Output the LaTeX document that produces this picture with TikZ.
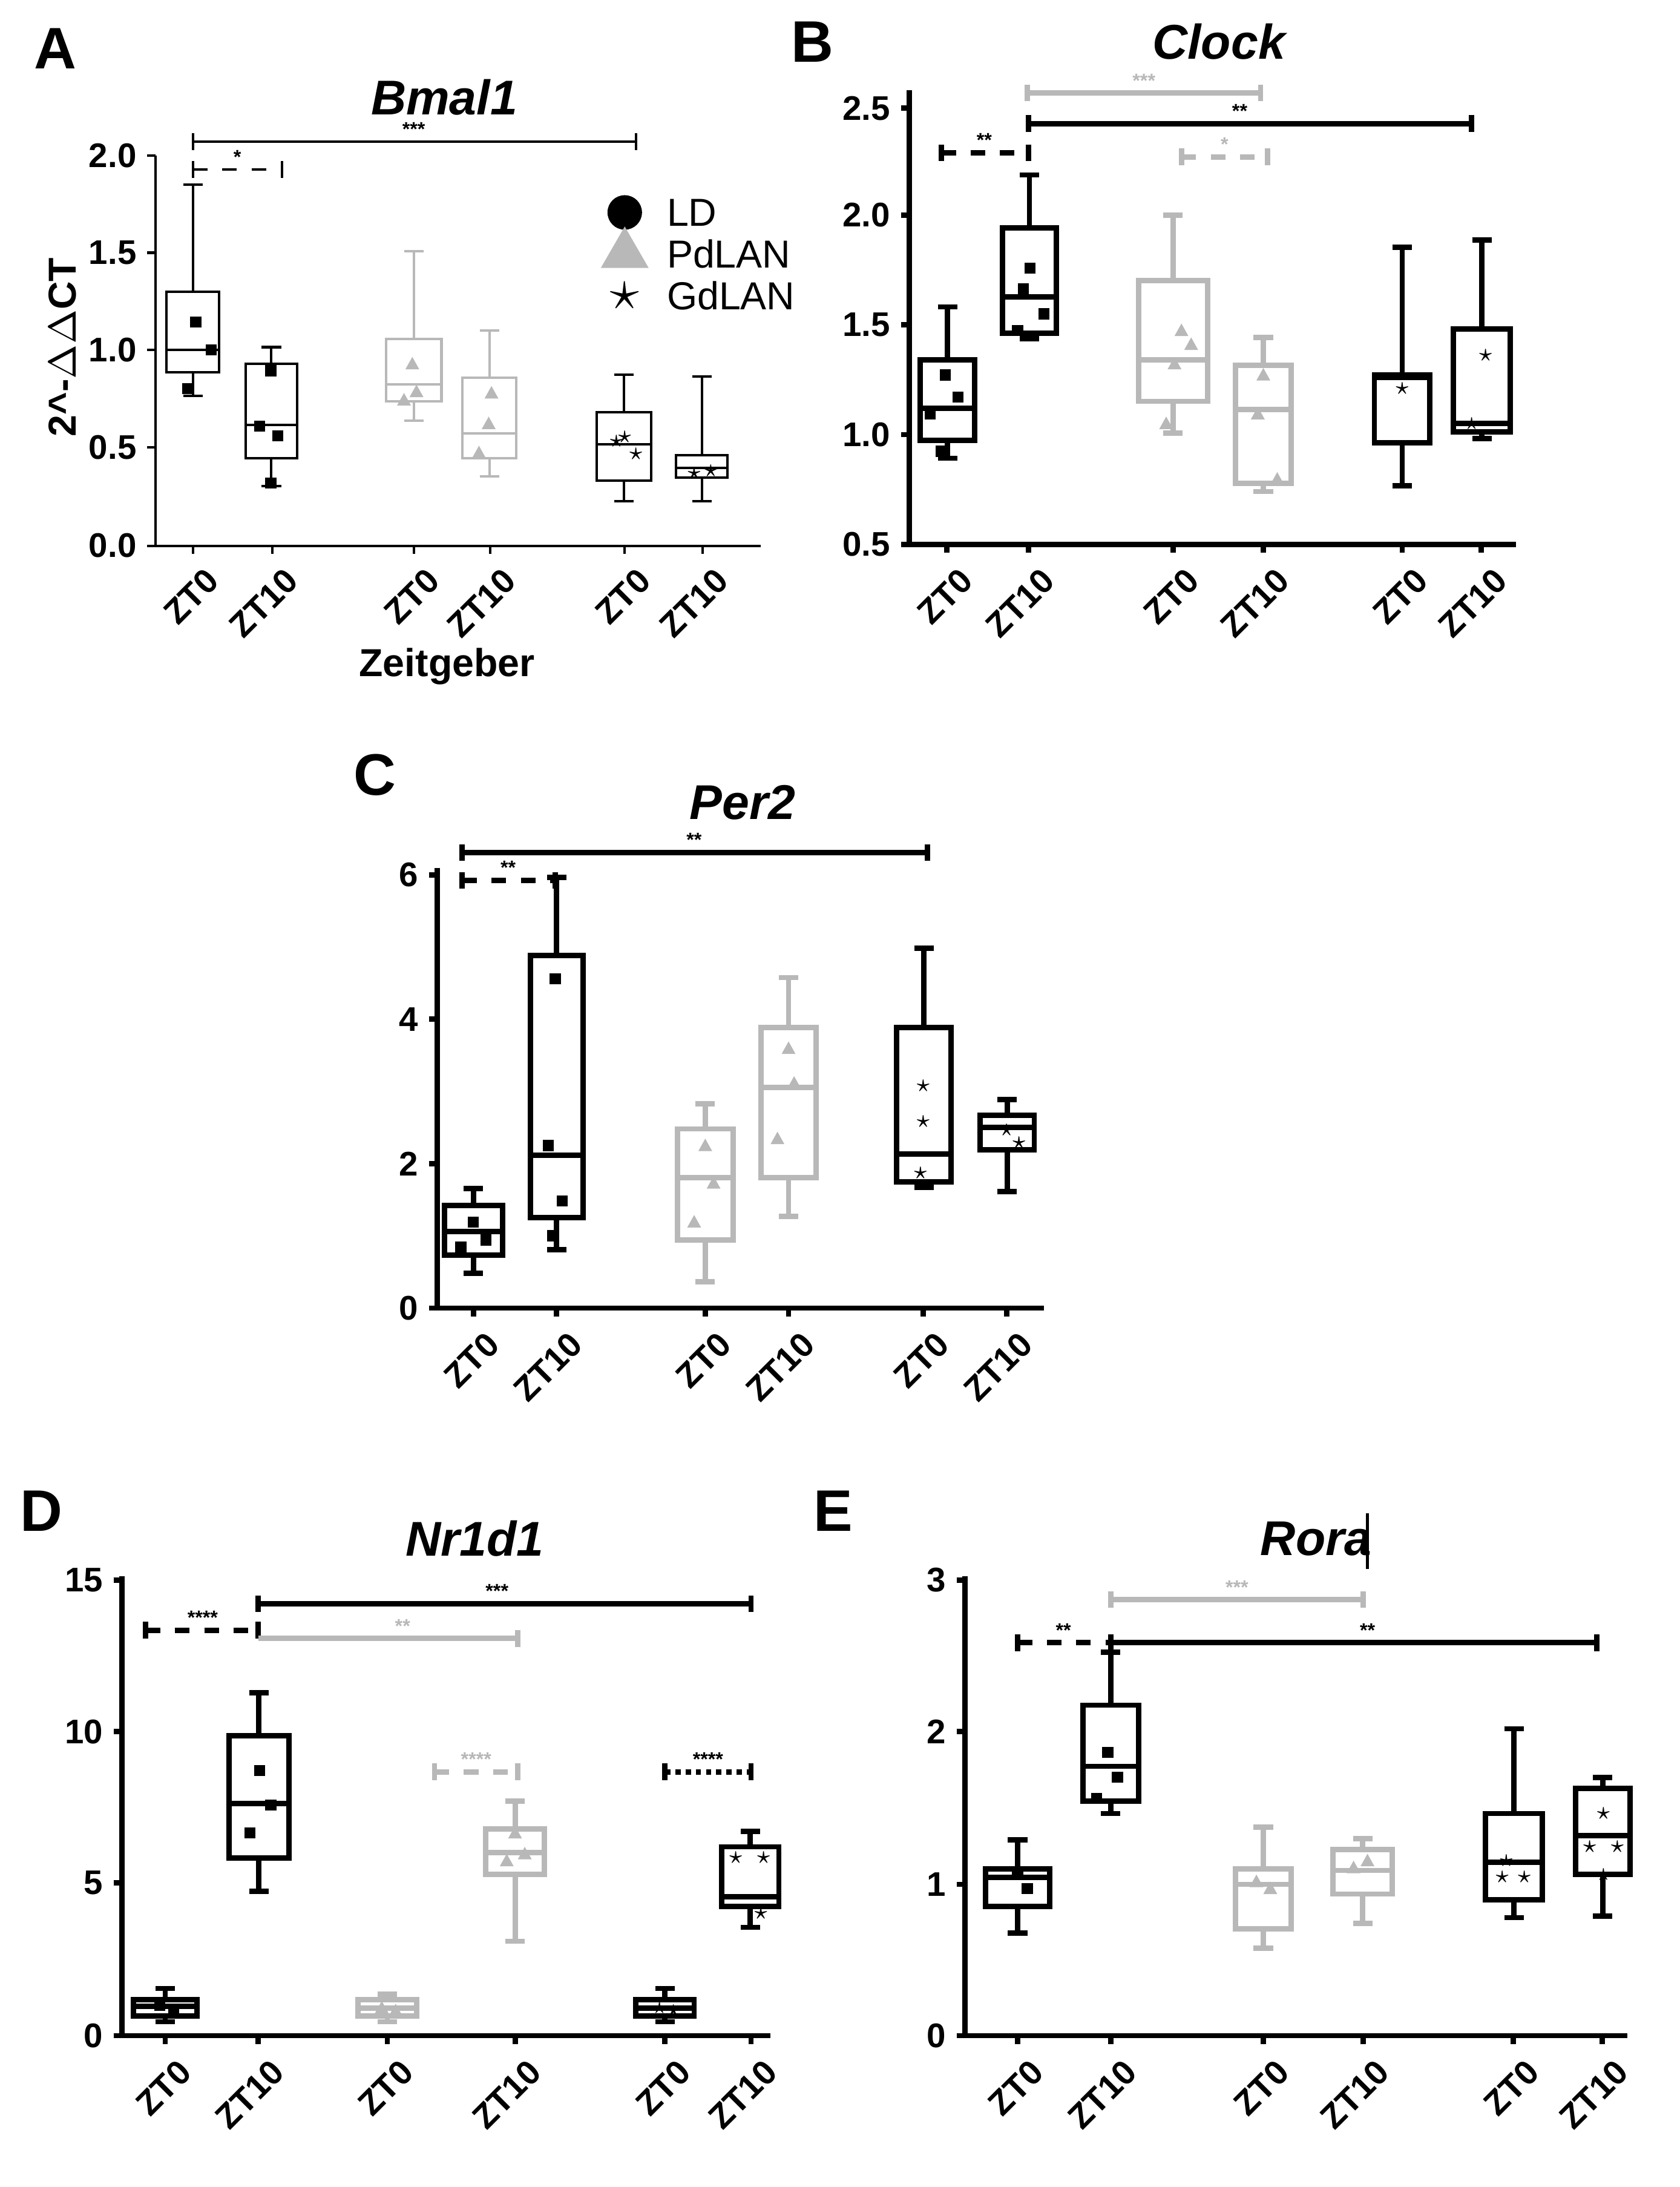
\documentclass[tikz,border=0pt]{standalone}
\usepackage{fontspec}
\setmainfont{Liberation Sans}
\usetikzlibrary{shapes.geometric}
\colorlet{langray}{black!28}
\newcommand\bplot[8]{% left, right, max, q3, median, q1, min, style
  \draw[#8] (#1,#4) rectangle (#2,#6);
  \draw[#8] (#1,#5) -- (#2,#5);
  \draw[#8] ({(#1+#2)/2},#3) -- ({(#1+#2)/2},#4);
  \draw[#8] ({(#1+#2)/2},#6) -- ({(#1+#2)/2},#7);
  \draw[#8] ({(#1+#2)/2-7},#3) -- ({(#1+#2)/2+7},#3);
  \draw[#8] ({(#1+#2)/2-7},#7) -- ({(#1+#2)/2+7},#7);
}
\newcommand\ztlab[3]{% x, y, text
  \node[ztl] at (#1,#2) {#3};}
\begin{document}
\begin{tikzpicture}
  [
  x=0.1mm, y=-0.1mm,
  ztl/.style={anchor=north east,rotate=45,font=\fontsize{7}{8}\selectfont\bfseries,inner sep=1pt},
  tick/.style={anchor=east,font=\fontsize{7}{8}\selectfont\bfseries,inner sep=2pt},
  ttl/.style={font=\fontsize{10}{12}\selectfont\bfseries\itshape},
  letter/.style={font=\fontsize{12}{14}\selectfont\bfseries},
  sig/.style={font=\fontsize{4}{5}\selectfont\bfseries,inner sep=1pt,anchor=south},
  thin/.style={line width=0.5pt},
  thick/.style={line width=1.1pt},
  ld/.style={fill=black},
  pd/.style={fill=langray}
  ]
  \useasboundingbox (0,0) rectangle (1210,1575);
  % panel A
  \node[letter] (la) at (40,35) {A};
  \node[ttl] (ta) at (320,70) {Bmal1};
  \draw[thin] (112,112) -- (112,393) -- (548,393);
  \foreach \v/\y in {2.0/112,1.5/182,1.0/252,0.5/322,0.0/393}{
    \draw[thin] (106,\y) -- (112,\y);
    \node[tick] at (106,\y) {\v};}
  \node[rotate=90,font=\fontsize{8}{9}\selectfont\bfseries] (ya) at (45,250) {2\^{}-$\Delta\Delta$CT};
  \bplot{120}{158}{133}{210}{252}{268}{285}{thin}
  \bplot{177}{214}{250}{262}{306}{330}{350}{thin}
  \bplot{278}{318}{181}{244}{277}{289}{303}{thin,langray}
  \bplot{333}{372}{238}{272}{312}{330}{343}{thin,langray}
  \bplot{430}{469}{270}{297}{320}{346}{361}{thin}
  \bplot{487}{524}{271}{328}{337}{344}{361}{thin}
  \foreach \x in {139,196,298,353,450,506}{\draw[thin] (\x,393) -- (\x,399);}
  \foreach \x/\t in {139/ZT0,196/ZT10,298/ZT0,353/ZT10,450/ZT0,506/ZT10}{\ztlab{\x+8}{402}{\t}}
  \foreach \x/\y in {141/232,152/252,135/280,195/267,200/314,187/307,195/348}{\fill (\x-4,\y-4) rectangle (\x+4,\y+4);}
  \foreach \x/\y in {297/262,300/282,291/288,354/283,352/305,345/326}{\fill[langray] (\x-5,\y+4) -- (\x+5,\y+4) -- (\x,\y-5) -- cycle;}
  \foreach \x/\y in {444/318,458/327,450/315,500/341,512/339}{\node[font=\tiny] at (\x,\y) {$\star$};}
  \draw[thin,dashed] (139,122) -- (203,122);
  \draw[thin] (139,116) -- (139,128); \draw[thin] (203,116) -- (203,128);
  \node[sig] at (171,122) {*};
  \draw[thin] (139,102) -- (458,102);
  \draw[thin] (139,96) -- (139,108); \draw[thin] (458,96) -- (458,108);
  \node[sig] at (298,102) {***};
  \node[circle,fill,inner sep=2.5pt] (mld) at (450,153) {};
  \node[anchor=west,font=\fontsize{8}{9}\selectfont] at (468,153) {LD};
  \node[regular polygon,regular polygon sides=3,fill=langray,inner sep=2pt] (mpd) at (450,183) {};
  \node[anchor=west,font=\fontsize{8}{9}\selectfont] at (468,183) {PdLAN};
  \node[font=\large] (mgd) at (450,213) {$\star$};
  \node[anchor=west,font=\fontsize{8}{9}\selectfont] at (468,213) {GdLAN};
  \node[font=\fontsize{8}{9}\selectfont\bfseries] (za) at (322,480) {Zeitgeber};
  % panel B
  \node[letter] (lb) at (585,30) {B};
  \node[ttl] (tb) at (878,30) {Clock};
  \draw[thick] (655,65) -- (655,392) -- (1092,392);
  \foreach \v/\y in {2.5/78,2.0/155,1.5/234,1.0/313,0.5/392}{
    \draw[thick] (649,\y) -- (655,\y);
    \node[tick] at (649,\y) {\v};}
  \bplot{663}{702}{221}{259}{294}{317}{330}{thick}
  \bplot{722}{761}{126}{164}{214}{240}{244}{thick}
  \bplot{820}{870}{155}{202}{259}{289}{312}{thick,langray}
  \bplot{890}{930}{243}{263}{295}{348}{354}{thick,langray}
  \bplot{990}{1030}{178}{270}{272}{319}{350}{thick}
  \bplot{1047}{1088}{173}{237}{305}{311}{316}{thick}
  \foreach \x in {682,741,845,910,1010,1067}{\draw[thick] (\x,392) -- (\x,398);}
  \foreach \x/\t in {682/ZT0,741/ZT10,845/ZT0,910/ZT10,1010/ZT0,1067/ZT10}{\ztlab{\x+8}{402}{\t}}
  \foreach \x/\y in {681/270,690/286,670/298,678/325,742/193,737/208,752/226,733/238}{\fill (\x-4,\y-4) rectangle (\x+4,\y+4);}
  \foreach \x/\y in {851/238,846/262,858/248,840/305,910/270,906/298,920/345}{\fill[langray] (\x-5,\y+4) -- (\x+5,\y+4) -- (\x,\y-5) -- cycle;}
  \foreach \x/\y in {1010/280,1070/256,1060/305}{\node[font=\tiny] at (\x,\y) {$\star$};}
  \draw[thick,dashed] (678,110) -- (741,110);
  \draw[thick] (678,104) -- (678,116); \draw[thick] (741,104) -- (741,116);
  \node[sig] at (709,110) {**};
  \draw[thick,langray] (740,67) -- (908,67);
  \draw[thick,langray] (740,61) -- (740,73); \draw[thick,langray] (908,61) -- (908,73);
  \node[sig,langray] at (824,67) {***};
  \draw[thick] (741,89) -- (1060,89);
  \draw[thick] (741,83) -- (741,95); \draw[thick] (1060,83) -- (1060,95);
  \node[sig] at (893,89) {**};
  \draw[thick,langray,dashed] (851,113) -- (913,113);
  \draw[thick,langray] (851,107) -- (851,119); \draw[thick,langray] (913,107) -- (913,119);
  \node[sig,langray] at (882,113) {*};
  % panel C
  \node[letter] (lc) at (270,558) {C};
  \node[ttl] (tc) at (535,578) {Per2};
  \draw[thick] (315,625) -- (315,942) -- (752,942);
  \foreach \v/\y in {6/630,4/734,2/838,0/942}{
    \draw[thick] (309,\y) -- (315,\y);
    \node[tick] at (309,\y) {\v};}
  \bplot{320}{362}{856}{868}{887}{904}{917}{thick}
  \bplot{382}{420}{632}{688}{832}{877}{900}{thick}
  \bplot{488}{528}{795}{813}{848}{893}{923}{thick,langray}
  \bplot{548}{588}{704}{740}{783}{848}{876}{thick,langray}
  \bplot{646}{685}{683}{740}{831}{851}{855}{thick}
  \bplot{706}{745}{792}{803}{812}{828}{858}{thick}
  \foreach \x in {341,401,508,568,665,725}{\draw[thick] (\x,942) -- (\x,948);}
  \foreach \x/\t in {341/ZT0,401/ZT10,508/ZT0,568/ZT10,665/ZT0,725/ZT10}{\ztlab{\x+8}{952}{\t}}
  \foreach \x/\y in {341/880,350/893,332/898,400/705,395/825,405/865,398/890}{\fill (\x-4,\y-4) rectangle (\x+4,\y+4);}
  \foreach \x/\y in {508/825,514/852,500/880,568/755,572/780,560/820}{\fill[langray] (\x-5,\y+4) -- (\x+5,\y+4) -- (\x,\y-5) -- cycle;}
  \foreach \x/\y in {665/782,665/808,663/845,725/814,734/823}{\node[font=\tiny] at (\x,\y) {$\star$};}
  \draw[thick,dashed] (333,634) -- (400,634);
  \draw[thick] (333,628) -- (333,640); \draw[thick] (400,628) -- (400,640);
  \node[sig] at (366,634) {**};
  \draw[thick] (333,614) -- (668,614);
  \draw[thick] (333,608) -- (333,620); \draw[thick] (668,608) -- (668,620);
  \node[sig] at (500,614) {**};
  % panel D
  \node[letter] (ld) at (30,1088) {D};
  \node[ttl] (td) at (342,1108) {Nr1d1};
  \draw[thick] (88,1135) -- (88,1466) -- (555,1466);
  \foreach \v/\y in {15/1138,10/1247,5/1356,0/1466}{
    \draw[thick] (82,\y) -- (88,\y);
    \node[tick] at (82,\y) {\v};}
  \bplot{96}{142}{1432}{1440}{1445}{1452}{1456}{thick}
  \bplot{165}{208}{1219}{1250}{1299}{1338}{1362}{thick}
  \bplot{258}{300}{1436}{1440}{1446}{1452}{1456}{thick,langray}
  \bplot{350}{392}{1297}{1317}{1334}{1350}{1398}{thick,langray}
  \bplot{458}{500}{1432}{1440}{1446}{1452}{1456}{thick}
  \bplot{520}{561}{1319}{1330}{1366}{1373}{1388}{thick}
  \foreach \x in {119,186,279,371,479,541}{\draw[thick] (\x,1466) -- (\x,1472);}
  \foreach \x/\t in {119/ZT0,186/ZT10,279/ZT0,371/ZT10,479/ZT0,541/ZT10}{\ztlab{\x+8}{1476}{\t}}
  \foreach \x/\y in {115/1444,125/1448,187/1275,195/1300,180/1320}{\fill (\x-4,\y-4) rectangle (\x+4,\y+4);}
  \foreach \x/\y in {275/1446,285/1448,371/1320,365/1340,378/1335}{\fill[langray] (\x-5,\y+4) -- (\x+5,\y+4) -- (\x,\y-5) -- cycle;}
  \foreach \x/\y in {475/1446,485/1448,530/1338,550/1338,548/1378}{\node[font=\tiny] at (\x,\y) {$\star$};}
  \draw[thick,dashed] (105,1174) -- (186,1174);
  \draw[thick] (105,1168) -- (105,1180); \draw[thick] (186,1168) -- (186,1180);
  \node[sig] at (146,1174) {****};
  \draw[thick] (186,1155) -- (541,1155);
  \draw[thick] (186,1149) -- (186,1161); \draw[thick] (541,1149) -- (541,1161);
  \node[sig] at (358,1155) {***};
  \draw[thick,langray] (186,1180) -- (373,1180);
  \draw[thick,langray] (373,1174) -- (373,1186);
  \node[sig,langray] at (290,1180) {**};
  \draw[thick,langray,dashed] (313,1276) -- (373,1276);
  \draw[thick,langray] (313,1270) -- (313,1282); \draw[thick,langray] (373,1270) -- (373,1282);
  \node[sig,langray] at (343,1276) {****};
  \draw[thick,densely dotted] (479,1276) -- (541,1276);
  \draw[thick] (479,1270) -- (479,1282); \draw[thick] (541,1270) -- (541,1282);
  \node[sig] at (510,1276) {****};
  % panel E
  \node[letter] (le) at (600,1088) {E};
  \node[ttl] (te) at (948,1108) {Rora};
  \draw[line width=0.6pt] (985,1090) -- (985,1130);
  \draw[thick] (695,1135) -- (695,1466) -- (1172,1466);
  \foreach \v/\y in {3/1138,2/1247,1/1357,0/1466}{
    \draw[thick] (689,\y) -- (695,\y);
    \node[tick] at (689,\y) {\v};}
  \bplot{710}{756}{1325}{1346}{1352}{1373}{1392}{thick}
  \bplot{780}{820}{1190}{1228}{1272}{1297}{1306}{thick}
  \bplot{890}{930}{1316}{1346}{1357}{1389}{1403}{thick,langray}
  \bplot{960}{1003}{1324}{1332}{1347}{1364}{1385}{thick,langray}
  \bplot{1070}{1111}{1245}{1306}{1341}{1368}{1381}{thick}
  \bplot{1135}{1174}{1280}{1288}{1322}{1350}{1380}{thick}
  \foreach \x in {733,800,910,982,1090,1154}{\draw[thick] (\x,1466) -- (\x,1472);}
  \foreach \x/\t in {733/ZT0,800/ZT10,910/ZT0,982/ZT10,1090/ZT0,1154/ZT10}{\ztlab{\x+8}{1476}{\t}}
  \foreach \x/\y in {733/1350,740/1360,798/1262,805/1280,790/1295}{\fill (\x-4,\y-4) rectangle (\x+4,\y+4);}
  \foreach \x/\y in {905/1355,915/1360,975/1345,985/1340}{\fill[langray] (\x-5,\y+4) -- (\x+5,\y+4) -- (\x,\y-5) -- cycle;}
  \foreach \x/\y in {1085/1340,1098/1352,1082/1352,1155/1306,1145/1330,1165/1330,1155/1350}{\node[font=\tiny] at (\x,\y) {$\star$};}
  \draw[thick,dashed] (733,1183) -- (800,1183);
  \draw[thick] (733,1177) -- (733,1189); \draw[thick] (800,1177) -- (800,1189);
  \node[sig] at (766,1183) {**};
  \draw[thick] (800,1183) -- (1150,1183);
  \draw[thick] (1150,1177) -- (1150,1189);
  \node[sig] at (985,1183) {**};
  \draw[thick,langray] (800,1152) -- (982,1152);
  \draw[thick,langray] (800,1146) -- (800,1158); \draw[thick,langray] (982,1146) -- (982,1158);
  \node[sig,langray] at (891,1152) {***};
\end{tikzpicture}
\end{document}
